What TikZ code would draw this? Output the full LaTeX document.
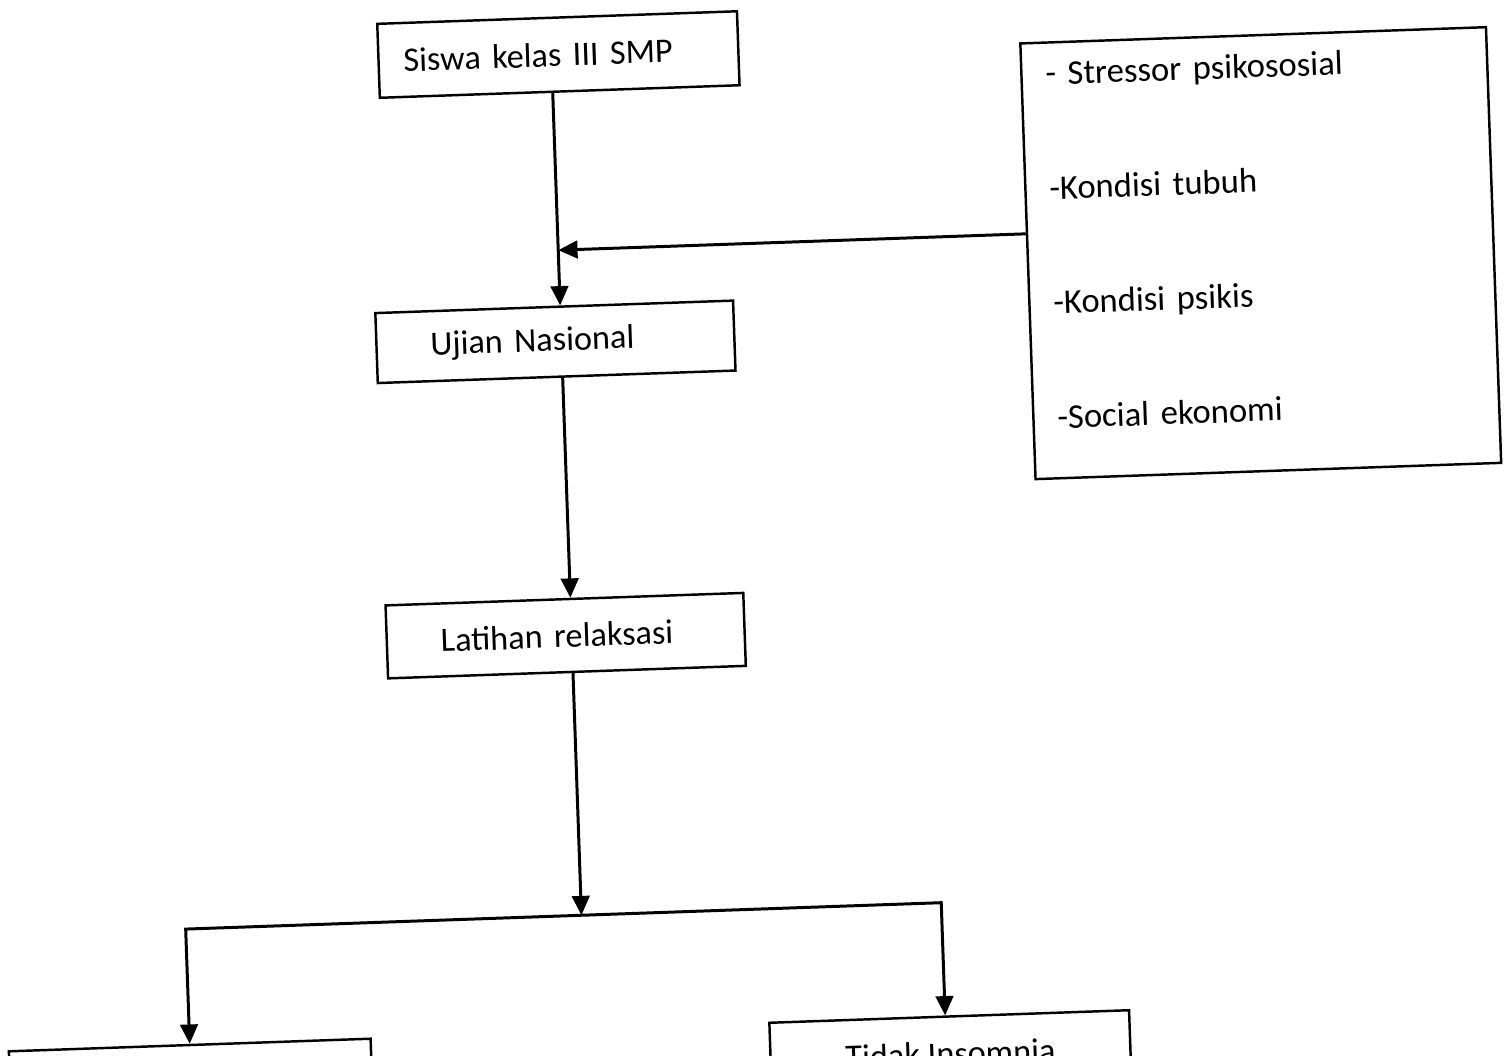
\documentclass[tikz,border=0pt]{standalone}
\usepackage{fontspec}
\setmainfont{Carlito}
\usetikzlibrary{arrows.meta}

\begin{document}
\begin{tikzpicture}[x=0.02cm, y=-0.02cm, ->, >={Triangle[length=11pt, width=10pt]}, line width=1.7pt,
    box/.style = {draw, rectangle, line width=1.4pt, inner xsep=0pt, font=\fontsize{19.5}{24}\selectfont},
    list/.style = {box, align=left, font=\fontsize{19.7}{65.2}\selectfont}]
    \useasboundingbox (0,0) rectangle (1508,1055);
    \begin{scope}[rotate around={2:(754,527)}, transform shape]
    % Nodes
    \node[box, minimum width=7.2cm, minimum height=1.48cm, text width=6.2cm, align=left] (siswa) at (575, 48) {Siswa kelas III SMP};
    \node[box, minimum width=7.16cm, minimum height=1.4cm, text width=5.0cm, align=left] (ujian) at (562, 335) {Ujian Nasional};
    \node[box, minimum width=7.16cm, minimum height=1.46cm, text width=5.0cm, align=left] (latihan) at (562, 629) {Latihan relaksasi};
    \node[list, minimum width=9.32cm, minimum height=8.72cm, text width=8.36cm] (faktor) at (1270, 271)
        {- Stressor psikososial\\-Kondisi tubuh\\-Kondisi psikis\\-Social ekonomi\rule[-0.63cm]{0pt}{0pt}};
    \node[box, minimum width=7.24cm, minimum height=1.48cm] (insom) at (172, 1062) {};
    \node[box, minimum width=7.2cm, minimum height=1.48cm] (tidak) at (932, 1060) {Tidak Insomnia};
    \coordinate (join) at (568, 243.5);
    \coordinate (split) at (568, 909);

    % Edges
    \draw (siswa.south -| join) -- (ujian.north -| join);
    \draw (faktor.west |- join) -- (join);
    \draw (ujian.south -| join) -- (latihan.north -| join);
    \draw (latihan.south -| split) -- (split);
    \draw (split) -| (insom.north);
    \draw (split) -| ([xshift=-0.08cm]tidak.north);
    \end{scope}
\end{tikzpicture}
\end{document}
